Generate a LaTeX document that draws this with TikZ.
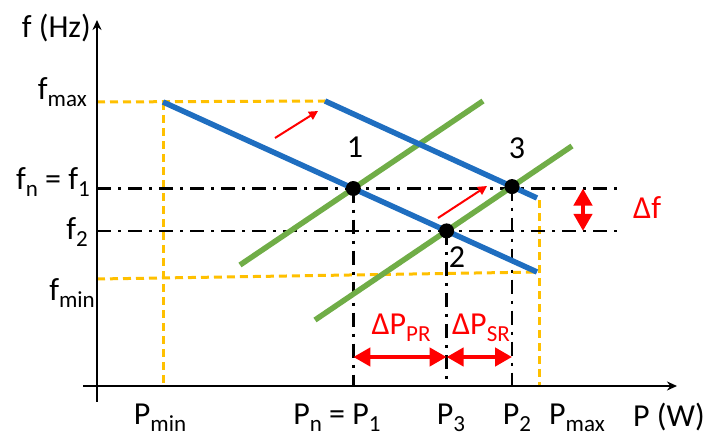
\documentclass[tikz,border=0pt]{standalone}
\usepackage{fontspec}
\setmainfont{Carlito}
\usetikzlibrary{arrows.meta}
\definecolor{cblue}{HTML}{1F6EC0}
\definecolor{cgreen}{HTML}{70AD47}
\definecolor{cyellow}{HTML}{FFC000}
\definecolor{cred}{HTML}{FF0000}
\newcommand\lo[1]{\raisebox{-7pt}{\fontsize{23}{23}\selectfont #1}}
\tikzset{
  axisline/.style={line width=2.2pt,-{Stealth[length=10pt,width=9pt]}},
  bluel/.style={cblue,line width=5.5pt},
  greenl/.style={cgreen,line width=5.5pt},
  yel/.style={cyellow,line width=3pt,dash pattern=on 8pt off 5pt},
  dashdot/.style={black,line width=2.8pt,dash pattern=on 14pt off 7pt on 3pt off 7pt},
  dotnode/.style={circle,fill=black,inner sep=0pt,minimum width=15pt,minimum height=13pt},
  bigarrow/.style={cred,line width=4.5pt,{Triangle[length=17pt,width=18pt]}-{Triangle[length=17pt,width=18pt]}},
  smallarrow/.style={cred,line width=2pt,-{Triangle[length=9pt,width=9pt]}},
  lbl/.style={inner sep=0pt,font=\fontsize{32}{36}\selectfont},
  redlbl/.style={lbl,text=cred}
}
\begin{document}
\begin{tikzpicture}[x=1pt,y=-1pt]
\useasboundingbox (0,0) rectangle (705,438);
% key coordinates
\coordinate (yb) at (97,402);
\coordinate (yt) at (97,20);
\coordinate (xl) at (83,386);
\coordinate (xr) at (677,386);
\coordinate (b1s) at (163,102);
\coordinate (b1e) at (537,272);
\coordinate (b2s) at (325,101);
\coordinate (b2e) at (537,198);
\coordinate (g1s) at (240,265);
\coordinate (g1e) at (483,101);
\coordinate (g2s) at (315,320);
\coordinate (g2e) at (572,146);
\coordinate (p1) at (intersection of b1s--b1e and g1s--g1e);
\coordinate (p2) at (intersection of b1s--b1e and g2s--g2e);
\coordinate (p3) at (intersection of b2s--b2e and g2s--g2e);
\coordinate (hr) at (620,0);
\coordinate (ar) at (0,357);
\coordinate (df) at (583,0);
\coordinate (fmaxl) at (97,102);
\coordinate (fminl) at (97,279);
\coordinate (pmaxt) at (539,200);
% yellow dashed limits
\draw[yel] (fmaxl) -- (b2s);
\draw[yel] (b1s) -- (b1s |- xl);
\draw[yel] (fminl) -- (539,272);
\draw[yel] (pmaxt) -- (pmaxt |- xl);
% dash-dot guide lines
\draw[dashdot] (yb |- p1) -- (hr |- p1);
\draw[dashdot] (yb |- p2) -- (hr |- p2);
\draw[dashdot] (p1) -- (p1 |- xl);
\draw[dashdot] (p2) -- (p2 |- xl);
\draw[dashdot] (p3) -- (p3 |- xl);
% axes
\draw[axisline] (yb) -- (yt);
\draw[axisline] (xl) -- (xr);
% characteristic lines
\draw[greenl] (g1s) -- (g1e);
\draw[greenl] (g2s) -- (g2e);
\draw[bluel] (b1s) -- (b1e);
\draw[bluel] (b2s) -- (b2e);
% operating points
\node[dotnode] (d1) at (p1) {};
\node[dotnode] (d2) at (p2) {};
\node[dotnode] (d3) at (p3) {};
% shift arrows
\coordinate (ra1s) at (275,138);
\coordinate (ra1e) at (318,111);
\coordinate (ra2s) at (438,218);
\coordinate (ra2e) at (487,186);
\draw[smallarrow] (ra1s) -- (ra1e);
\draw[smallarrow] (ra2s) -- (ra2e);
% delta arrows
\draw[bigarrow] (p1 |- ar) -- (p2 |- ar);
\draw[bigarrow] (p2 |- ar) -- (p3 |- ar);
\draw[bigarrow] (df |- p1) -- (df |- p2);
% labels
\node[lbl,anchor=base east] (lfhz) at (91,38) {f (Hz)};
\node[lbl,anchor=base east] (lfmax) at (87,100) {f\lo{max}};
\node[lbl,anchor=base east] (lfn) at (90,190) {f\lo{n} = f\lo{1}};
\node[lbl,anchor=base east] (lf2) at (88,240) {f\lo{2}};
\node[lbl,anchor=base east] (lfmin) at (95,301) {f\lo{min}};
\node[lbl,anchor=base] (lpmin) at (160,425) {P\lo{min}};
\node[lbl,anchor=base] (lpn) at (337,425) {P\lo{n} = P\lo{1}};
\node[lbl,anchor=base] (lp3) at (451,425) {P\lo{3}};
\node[lbl,anchor=base] (lp2) at (517,425) {P\lo{2}};
\node[lbl,anchor=base] (lpmax) at (577,425) {P\lo{max}};
\node[lbl,anchor=base east] (lpw) at (705,427) {P (W)};
\node[lbl] (n1) at (355,147) {1};
\node[lbl] (n3) at (517,148) {3};
\node[lbl] (n2) at (457,257) {2};
\node[redlbl,anchor=base] (ldpr) at (401,335) {ΔP\lo{PR}};
\node[redlbl,anchor=base] (ldsr) at (481,335) {ΔP\lo{SR}};
\node[redlbl,anchor=base west] (ldf) at (633,219) {Δf};
\end{tikzpicture}
\end{document}
